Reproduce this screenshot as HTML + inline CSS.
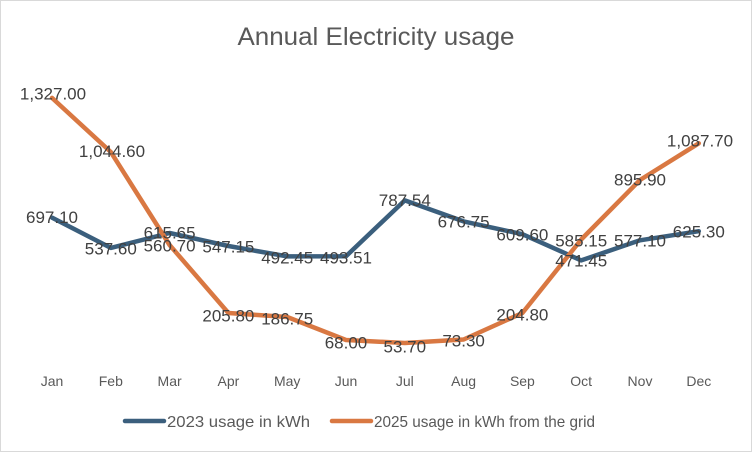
<!DOCTYPE html>
<html><head><meta charset="utf-8"><style>
body{margin:0;background:#fff}
svg{display:block;font-family:"Liberation Sans",sans-serif}
</style></head><body>
<svg width="752" height="452" viewBox="0 0 752 452">
<rect x="0.5" y="0.5" width="751" height="451" fill="#fff" stroke="#d9d9d9"/>
<text x="376" y="45" text-anchor="middle" font-size="25" fill="#595959" textLength="277" lengthAdjust="spacingAndGlyphs">Annual Electricity usage</text>
<g font-size="14" fill="#595959" text-anchor="middle">
<text x="52" y="386">Jan</text><text x="110.8" y="386">Feb</text><text x="169.6" y="386">Mar</text><text x="228.4" y="386">Apr</text><text x="287.2" y="386">May</text><text x="346" y="386">Jun</text><text x="404.8" y="386">Jul</text><text x="463.6" y="386">Aug</text><text x="522.4" y="386">Sep</text><text x="581.2" y="386">Oct</text><text x="640" y="386">Nov</text><text x="698.8" y="386">Dec</text>
</g>
<polyline fill="none" stroke="#3b5f7d" stroke-width="4.5" stroke-linejoin="round" stroke-linecap="round" points="52,217.6 110.8,247.9 169.6,233 228.4,246 287.2,256.4 346,256.2 404.8,200.4 463.6,221.4 522.4,234.2 581.2,260.4 640,240.3 698.8,231.2"/>
<polyline fill="none" stroke="#d97842" stroke-width="4.5" stroke-linejoin="round" stroke-linecap="round" points="52,97.9 110.8,152 169.6,245 228.4,313 287.2,317 346,340 404.8,343 463.6,339.5 522.4,313 581.2,239.5 640,180 698.8,143.3"/>
<g font-size="17" fill="#404040" text-anchor="middle" dominant-baseline="central">
<text x="52" y="217.6">697.10</text><text x="110.8" y="249">537.60</text><text x="169.6" y="233">615.65</text><text x="228.4" y="247">547.15</text><text x="287.2" y="258">492.45</text><text x="346" y="258">493.51</text><text x="404.8" y="200.4">787.54</text><text x="463.6" y="222">676.75</text><text x="522.4" y="235">609.60</text><text x="581.2" y="261">471.45</text><text x="640" y="241">577.10</text><text x="698.8" y="232">625.30</text>
<text x="53" y="94">1,327.00</text><text x="112" y="151.5">1,044.60</text><text x="169.6" y="246">560.70</text><text x="228.4" y="316">205.80</text><text x="287.2" y="319">186.75</text><text x="346" y="343">68.00</text><text x="404.8" y="347">53.70</text><text x="463.6" y="341">73.30</text><text x="522.4" y="315">204.80</text><text x="581.2" y="241">585.15</text><text x="640" y="180">895.90</text><text x="700" y="141">1,087.70</text>
</g>
<line x1="125" y1="421" x2="164" y2="421" stroke="#3b5f7d" stroke-width="4.5" stroke-linecap="round"/>
<text x="167" y="427" font-size="16" fill="#595959" textLength="143" lengthAdjust="spacingAndGlyphs">2023 usage in kWh</text>
<line x1="332" y1="421" x2="371" y2="421" stroke="#d97842" stroke-width="4.5" stroke-linecap="round"/>
<text x="374" y="427" font-size="16" fill="#595959" textLength="221" lengthAdjust="spacingAndGlyphs">2025 usage in kWh from the grid</text>
</svg>
</body></html>
